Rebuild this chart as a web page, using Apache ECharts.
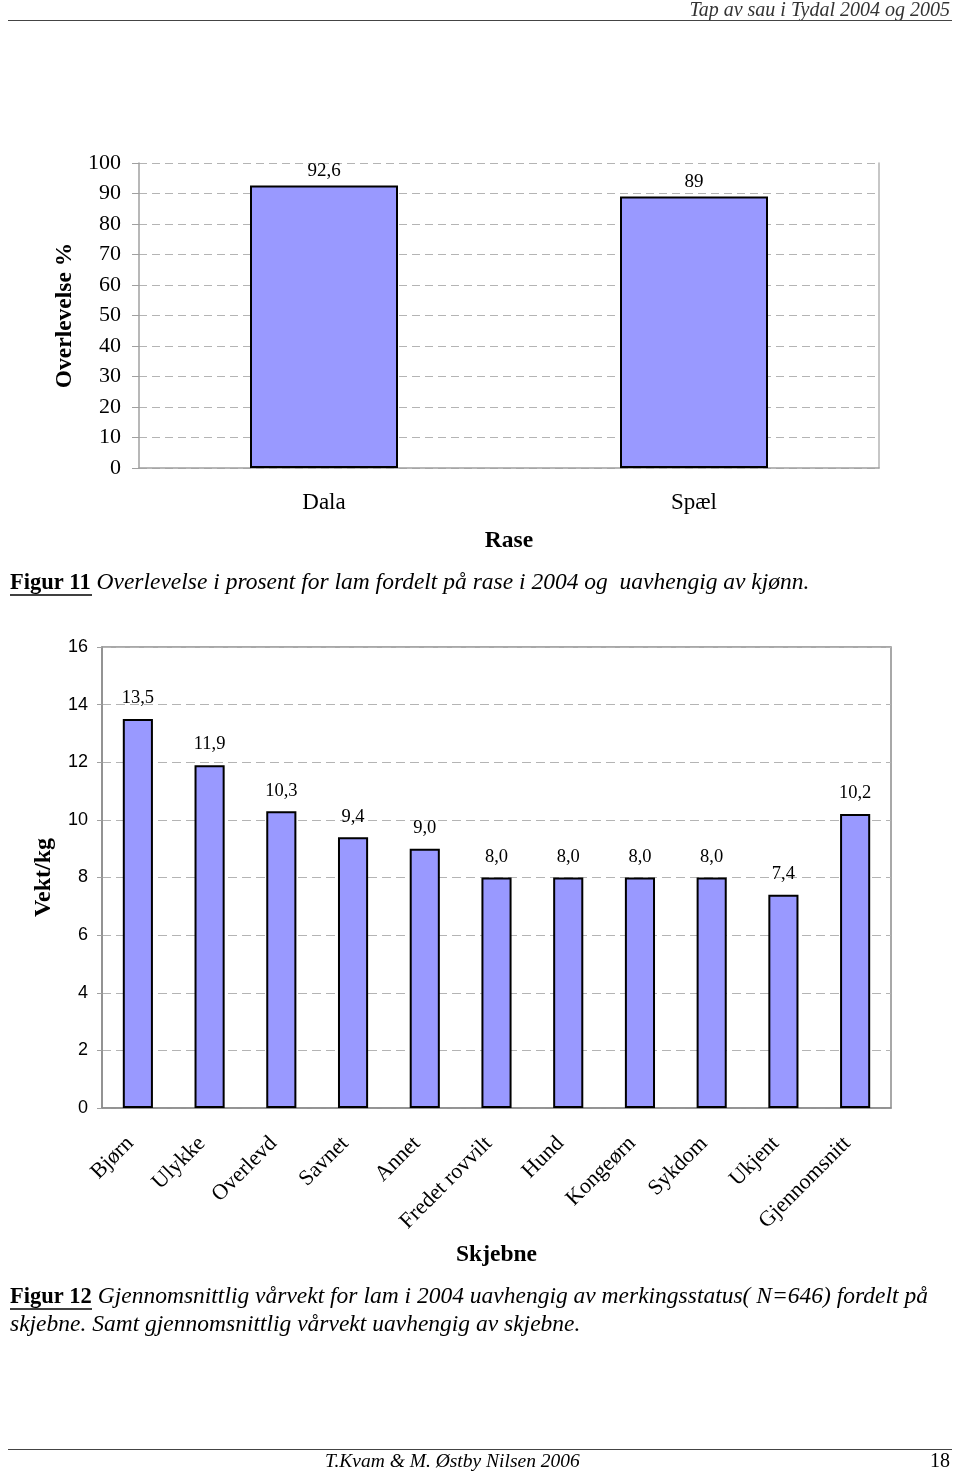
<!DOCTYPE html>
<html>
<head>
<meta charset="utf-8">
<script src="https://cdn.jsdelivr.net/npm/echarts@6/dist/echarts.min.js"></script>
<style>
  html, body { margin: 0; padding: 0; background: #fff; }
  #page { width: 960px; height: 1474px; }
</style>
</head>
<body>
<div id="page"></div>
<script>
// Figur 11: overlevelse per rase
const raseCategories = ['Dala', 'Spæl'];
const overlevelseValues = [92.6, 89];

// Figur 12: vårvekt per skjebne
const skjebneCategories = ['Bjørn', 'Ulykke', 'Overlevd', 'Savnet', 'Annet', 'Fredet rovvilt', 'Hund', 'Kongeørn', 'Sykdom', 'Ukjent', 'Gjennomsnitt'];
const vektValues = [13.5, 11.9, 10.3, 9.4, 9.0, 8.0, 8.0, 8.0, 8.0, 7.4, 10.2];

const serif = '"Liberation Serif", "DejaVu Serif", serif';
const sans = '"Liberation Sans", Arial, sans-serif';
const barFill = '#9999ff';
const gridGray = '#a0a0a0';

// desimalkomma som i originalen
function comma(v) {
  return String(v).replace('.', ',');
}

let myChart = echarts.init(document.getElementById('page'));

myChart.setOption({
  backgroundColor: '#fff',
  animation: false,
  grid: [
    { left: 139, top: 163, width: 740, height: 305 },
    { left: 102, top: 647, width: 789, height: 461, show: true, borderColor: '#8c8c8c', borderWidth: 1.5 },
  ],
  xAxis: [
    {
      gridIndex: 0,
      type: 'category',
      data: raseCategories,
      name: 'Rase',
      nameLocation: 'middle',
      nameGap: 61,
      nameTextStyle: { fontFamily: serif, fontWeight: 'bold', fontSize: 23.5, color: '#000' },
      axisLine: { lineStyle: { color: gridGray, width: 1.5 } },
      axisTick: { length: 8, lineStyle: { color: gridGray } },
      axisLabel: { fontFamily: serif, fontSize: 23, color: '#000', margin: 23 },
    },
    {
      gridIndex: 1,
      type: 'category',
      data: skjebneCategories,
      name: 'Skjebne',
      nameLocation: 'middle',
      nameGap: 135,
      nameTextStyle: { fontFamily: serif, fontWeight: 'bold', fontSize: 23.5, color: '#000' },
      axisLine: { lineStyle: { color: '#8c8c8c', width: 1.5 } },
      axisTick: { length: 6, lineStyle: { color: gridGray } },
      axisLabel: {
        fontFamily: serif, fontSize: 22, color: '#000',
        rotate: 45, margin: 40, verticalAlign: 'bottom', interval: 0,
      },
    },
  ],
  yAxis: [
    {
      gridIndex: 0,
      type: 'value',
      min: 0, max: 100, interval: 10,
      name: 'Overlevelse %',
      nameLocation: 'middle',
      nameGap: 61,
      nameTextStyle: { fontFamily: serif, fontWeight: 'bold', fontSize: 23.5, color: '#000' },
      axisLine: { show: true, lineStyle: { color: gridGray, width: 1.5 } },
      axisTick: { show: true, length: 7, lineStyle: { color: gridGray } },
      axisLabel: { fontFamily: serif, fontSize: 22, color: '#000', margin: 18 },
      splitLine: { lineStyle: { color: '#b4b4b4', type: [8, 5], width: 1 } },
    },
    {
      // høyre ramme for figur 11
      gridIndex: 0,
      type: 'value',
      position: 'right',
      min: 0, max: 100, interval: 10,
      axisLine: { show: true, lineStyle: { color: '#b4b4b4', width: 1.5 } },
      axisTick: { show: false },
      axisLabel: { show: false },
      splitLine: { show: false },
    },
    {
      gridIndex: 1,
      type: 'value',
      min: 0, max: 16, interval: 2,
      name: 'Vekt/kg',
      nameLocation: 'middle',
      nameGap: 46,
      nameTextStyle: { fontFamily: serif, fontWeight: 'bold', fontSize: 24, color: '#000' },
      axisLine: { show: true, lineStyle: { color: '#8c8c8c', width: 1.5 } },
      axisTick: { show: true, length: 5, lineStyle: { color: gridGray } },
      axisLabel: { fontFamily: sans, fontSize: 18, color: '#000', margin: 14 },
      splitLine: { lineStyle: { color: '#b4b4b4', type: [9, 5], width: 1 } },
    },
  ],
  series: [
    {
      type: 'bar',
      xAxisIndex: 0,
      yAxisIndex: 0,
      data: overlevelseValues,
      barWidth: '40%',
      itemStyle: { color: barFill, borderColor: '#000', borderWidth: 2 },
      label: {
        show: true, position: 'top', distance: 5,
        fontFamily: serif, fontSize: 19, color: '#000',
        formatter: (p) => comma(p.value),
      },
    },
    {
      type: 'bar',
      xAxisIndex: 1,
      yAxisIndex: 2,
      data: vektValues,
      barWidth: '42%',
      itemStyle: { color: barFill, borderColor: '#000', borderWidth: 2 },
      label: {
        show: true, position: 'top', distance: 11,
        fontFamily: serif, fontSize: 18.5, color: '#000',
        formatter: (p) => p.value.toFixed(1).replace('.', ','),
      },
    },
  ],
  graphic: [
    // topptekst
    {
      type: 'text',
      style: {
        text: 'Tap av sau i Tydal 2004 og 2005', x: 950, y: 11,
        font: 'italic 20px ' + serif, fill: '#333',
        align: 'right', verticalAlign: 'middle', textAlign: 'right', textVerticalAlign: 'middle',
      },
    },
    { type: 'line', shape: { x1: 8, y1: 20.5, x2: 952, y2: 20.5 }, style: { stroke: '#444', lineWidth: 1 } },
    // figurtekst 11
    {
      type: 'text',
      style: {
        text: '{b|Figur 11}{i| Overlevelse i prosent for lam fordelt på rase i 2004 og  uavhengig av kjønn.}',
        x: 10, y: 583,
        verticalAlign: 'middle', textVerticalAlign: 'middle',
        rich: {
          b: { font: 'bold 22.5px ' + serif, fill: '#000' },
          i: { font: 'italic 23.5px ' + serif, fill: '#000' },
        },
      },
    },
    { type: 'line', shape: { x1: 10, y1: 595, x2: 92, y2: 595 }, style: { stroke: '#000', lineWidth: 1.5 } },
    // figurtekst 12
    {
      type: 'text',
      style: {
        text: '{b|Figur 12}{i| Gjennomsnittlig vårvekt for lam i 2004 uavhengig av merkingsstatus( N=646) fordelt på}',
        x: 10, y: 1297,
        verticalAlign: 'middle', textVerticalAlign: 'middle',
        rich: {
          b: { font: 'bold 22.5px ' + serif, fill: '#000' },
          i: { font: 'italic 23.5px ' + serif, fill: '#000' },
        },
      },
    },
    { type: 'line', shape: { x1: 10, y1: 1309, x2: 92, y2: 1309 }, style: { stroke: '#000', lineWidth: 1.5 } },
    {
      type: 'text',
      style: {
        text: 'skjebne. Samt gjennomsnittlig vårvekt uavhengig av skjebne.', x: 10, y: 1325,
        font: 'italic 23.5px ' + serif, fill: '#000',
        verticalAlign: 'middle', textVerticalAlign: 'middle',
      },
    },
    // bunntekst
    { type: 'line', shape: { x1: 8, y1: 1449.5, x2: 952, y2: 1449.5 }, style: { stroke: '#444', lineWidth: 1 } },
    {
      type: 'text',
      style: {
        text: 'T.Kvam & M. Østby Nilsen 2006', x: 325, y: 1462,
        font: 'italic 19.5px ' + serif, fill: '#000',
        verticalAlign: 'middle', textVerticalAlign: 'middle',
      },
    },
    {
      type: 'text',
      style: {
        text: '18', x: 950, y: 1462,
        font: '20px ' + serif, fill: '#000',
        align: 'right', verticalAlign: 'middle', textAlign: 'right', textVerticalAlign: 'middle',
      },
    },
  ],
});

window.addEventListener('resize', () => {
  myChart.resize();
});
</script>
</body>
</html>
